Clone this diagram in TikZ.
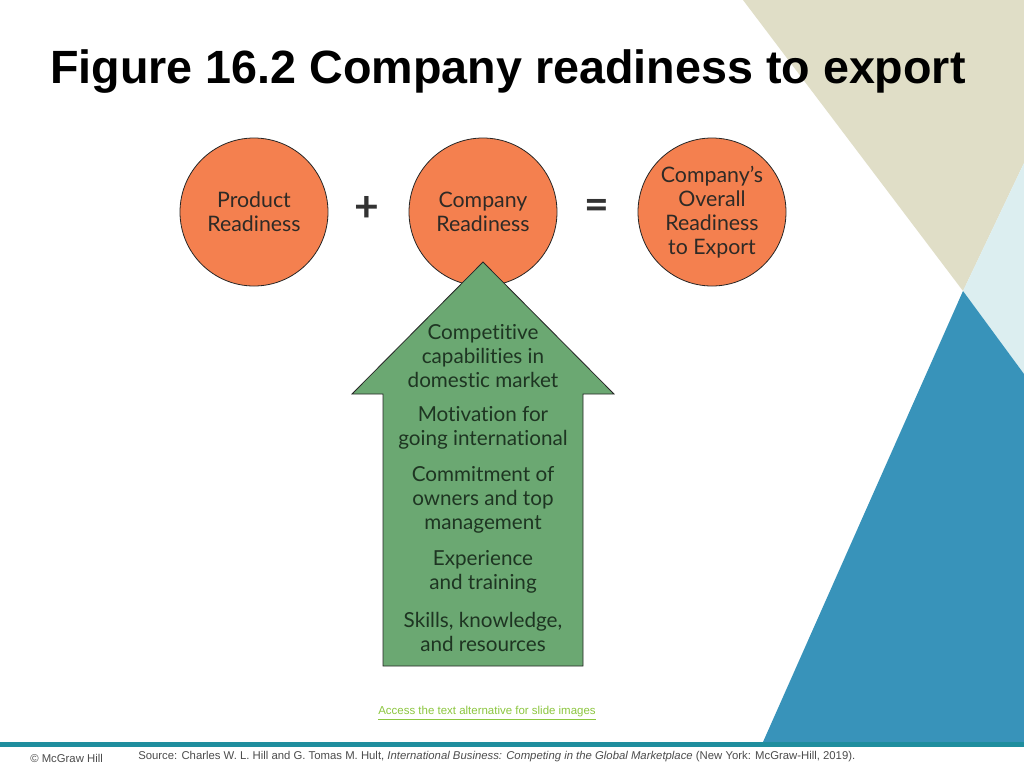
\documentclass[tikz,border=0pt]{standalone}
\usepackage{fontspec}
\setmainfont{Liberation Sans}
\newfontfamily\figfont[Ligatures=NoCommon]{Lato}
\definecolor{beige}{HTML}{E0DEC7}
\definecolor{paleblue}{HTML}{DCEEF0}
\definecolor{deepblue}{HTML}{3893BA}
\definecolor{tealbar}{HTML}{1F8E9E}
\definecolor{circorange}{HTML}{F4804F}
\definecolor{arrowgreen}{HTML}{6BA872}
\definecolor{figtext}{HTML}{2E2A26}
\definecolor{arrowtext}{HTML}{1E3522}
\definecolor{linkgreen}{HTML}{8CC63F}
\begin{document}
\begin{tikzpicture}[x=0.75pt,y=-0.75pt,
  circnode/.style={circle, draw=black!85, line width=0.6pt, fill=circorange,
    minimum size=111pt, inner sep=0pt, align=center, text=figtext,
    font=\figfont\fontsize{16}{18}\selectfont},
  arrowtxt/.style={align=center, text=arrowtext, inner sep=0pt,
    font=\figfont\fontsize{15.5}{18}\selectfont},
  opsym/.style={text=black!80, inner sep=0pt, font=\figfont\bfseries\fontsize{32}{32}\selectfont},
  foot/.style={text=black!70, inner sep=0pt, anchor=west, font=\fontsize{8.5}{10}\selectfont}]
\useasboundingbox (0,0) rectangle (1024,768);
\fill[white] (0,0) rectangle (1024,768);
% background shapes
\fill[beige] (743,0) -- (1024,0) -- (1024,163) -- (963,291) -- cycle;
\fill[paleblue] (1024,163) -- (963,291) -- (1024,374) -- cycle;
\fill[deepblue] (963,291) -- (1024,374) -- (1024,742) -- (763,742) -- cycle;
\fill[tealbar] (0,742) rectangle (1024,747);
% title
\node[anchor=west, inner sep=0pt, font=\bfseries\fontsize{35}{40}\selectfont] (title) at (50,72) {Figure 16.2 Company readiness to export};
% circles
\node[circnode] (prod) at (254,212) {Product\\Readiness};
\node[circnode] (comp) at (483,212) {Company\\Readiness};
\node[circnode] (overall) at (712,212) {Company’s\\Overall\\Readiness\\to Export};
\node[opsym] (plus) at (367,209) {+};
\node[opsym] (eq) at (597,209) {=};
% arrow
\draw[fill=arrowgreen, draw=black!85, line width=0.6pt]
  (483,262) -- (614,394) -- (583,394) -- (583,666) -- (383,666) -- (383,394) -- (352,394) -- cycle;
\node[arrowtxt] (a1) at (483,356) {Competitive\\capabilities in\\domestic market};
\node[arrowtxt] (a2) at (483,428) {Motivation for\\going international};
\node[arrowtxt] (a3) at (483,500) {Commitment of\\owners and top\\management};
\node[arrowtxt] (a4) at (483,572) {Experience\\and training};
\node[arrowtxt] (a5) at (483,632) {Skills, knowledge,\\and resources};
% link and footer
\node[text=linkgreen, inner sep=0pt, font=\fontsize{8.6}{10}\selectfont] (link) at (487,713) {\underline{Access the text alternative for slide images}};
\node[foot] (mh) at (30,758) {© McGraw Hill};
\node[foot] (src) at (138,757) {Source: Charles W. L. Hill and G. Tomas M. Hult, \textit{International Business: Competing in the Global Marketplace} (New York: McGraw-Hill, 2019).};
\end{tikzpicture}
\end{document}
